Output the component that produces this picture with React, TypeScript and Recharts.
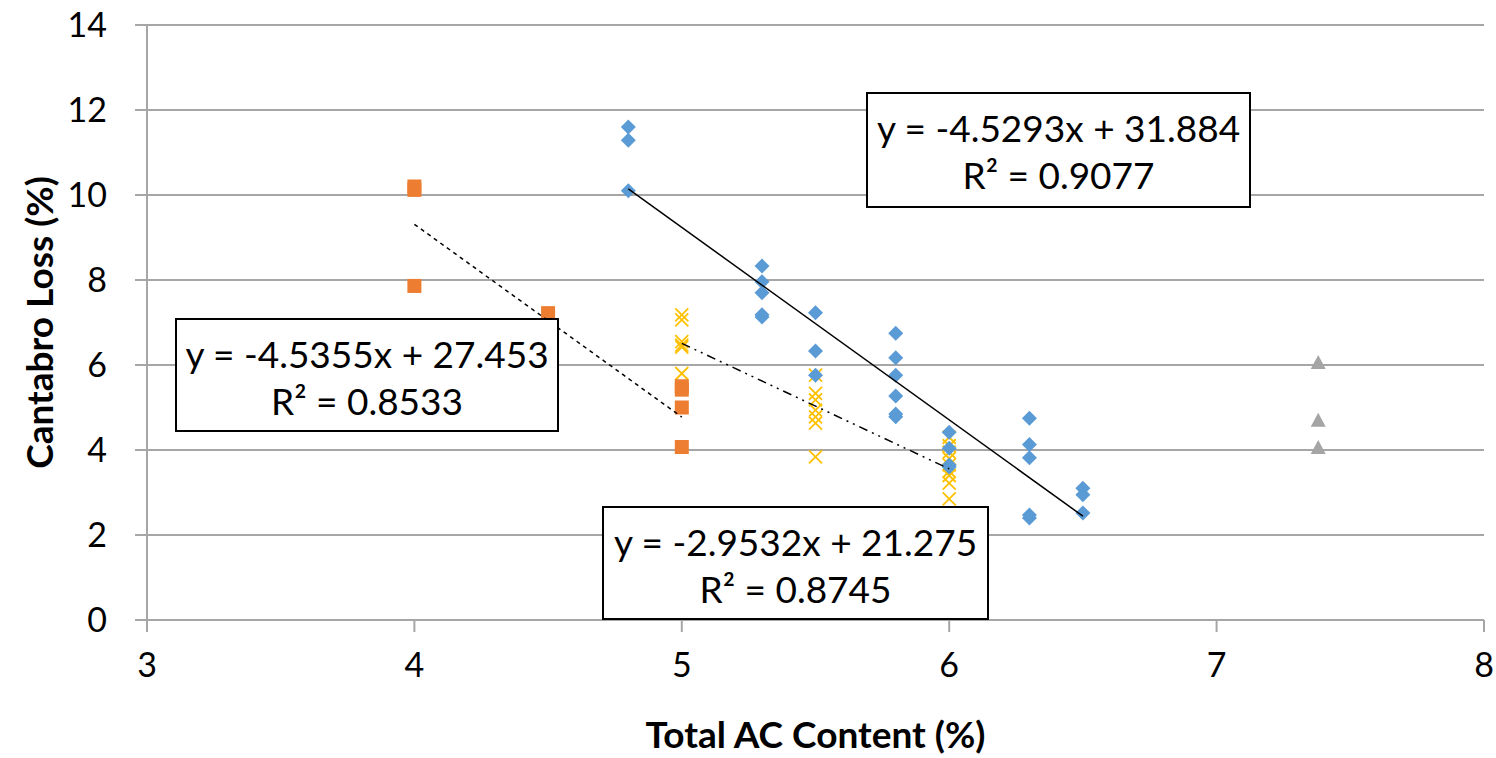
import React from "react";
import {
  ScatterChart,
  Scatter,
  XAxis,
  YAxis,
  CartesianGrid,
} from "recharts";

// [AC content, Cantabro loss]
const bluePoints: [number, number][] = [
  [4.8, 11.6], [4.8, 11.29], [4.8, 10.1],
  [5.3, 8.33], [5.3, 7.96], [5.3, 7.7], [5.3, 7.18], [5.3, 7.13],
  [5.5, 7.23], [5.5, 6.33], [5.5, 5.76],
  [5.8, 6.75], [5.8, 6.17], [5.8, 5.76], [5.8, 5.27], [5.8, 4.85], [5.8, 4.78],
  [6.0, 4.42], [6.0, 4.04], [6.0, 3.65], [6.0, 3.6],
  [6.3, 4.75], [6.3, 4.13], [6.3, 3.82], [6.3, 2.47], [6.3, 2.4],
  [6.5, 3.1], [6.5, 2.95], [6.5, 2.52],
];

const orangePoints: [number, number][] = [
  [4.0, 10.2], [4.0, 10.12], [4.0, 7.86],
  [4.5, 7.22],
  [5.0, 5.5], [5.0, 5.42], [5.0, 5.0], [5.0, 4.07],
];

const yellowPoints: [number, number][] = [
  [5.0, 7.18], [5.0, 7.06], [5.0, 6.55], [5.0, 6.47], [5.0, 6.42], [5.0, 5.8],
  [5.5, 5.76], [5.5, 5.33], [5.5, 5.18], [5.5, 4.94], [5.5, 4.78], [5.5, 4.63], [5.5, 3.84],
  [6.0, 4.3], [6.0, 4.1], [6.0, 3.95], [6.0, 3.8], [6.0, 3.65], [6.0, 3.5], [6.0, 3.4], [6.0, 3.22], [6.0, 2.85],
];

const grayPoints: [number, number][] = [
  [7.38, 6.05], [7.38, 4.69], [7.38, 4.05],
];

// trendlines: slope, intercept, x range
const blueTrend = { m: -4.5293, b: 31.884, from: 4.8, to: 6.5 };
const orangeTrend = { m: -4.5355, b: 27.453, from: 4.0, to: 5.0 };
const yellowTrend = { m: -2.9532, b: 21.275, from: 5.0, to: 6.0 };

const xTicks = [3, 4, 5, 6, 7, 8];
const yTicks = [0, 2, 4, 6, 8, 10, 12, 14];

const toData = (pts: [number, number][]) => pts.map(([x, y]) => ({ x, y }));
const trendData = (t: { m: number; b: number; from: number; to: number }) => [
  { x: t.from, y: t.m * t.from + t.b },
  { x: t.to, y: t.m * t.to + t.b },
];

const FONT = "Lato, 'Open Sans', sans-serif";

const Diamond = (props: any) => {
  const { cx, cy } = props;
  const r = 7.5;
  return (
    <path
      d={`M${cx},${cy - r}L${cx + r},${cy}L${cx},${cy + r}L${cx - r},${cy}Z`}
      fill="#5b9bd5"
    />
  );
};

const Square = (props: any) => {
  const { cx, cy } = props;
  return <rect x={cx - 7} y={cy - 7} width={14} height={14} fill="#ed7d31" />;
};

const Cross = (props: any) => {
  const { cx, cy } = props;
  const r = 6.5;
  return (
    <path
      d={`M${cx - r},${cy - r}L${cx + r},${cy + r}M${cx + r},${cy - r}L${cx - r},${cy + r}`}
      stroke="#ffc000"
      strokeWidth={1.8}
      fill="none"
    />
  );
};

const Triangle = (props: any) => {
  const { cx, cy } = props;
  return (
    <path
      d={`M${cx},${cy - 8}L${cx + 7.5},${cy + 6}L${cx - 7.5},${cy + 6}Z`}
      fill="#a5a5a5"
    />
  );
};

const NoShape = () => <g />;

const EqBox = ({
  left,
  top,
  width,
  height,
  eq,
  r2,
}: {
  left: number;
  top: number;
  width: number;
  height: number;
  eq: string;
  r2: string;
}) => (
  <div
    style={{
      position: "absolute",
      left,
      top,
      width,
      height,
      boxSizing: "border-box",
      border: "2px solid #000",
      background: "#fff",
      fontFamily: FONT,
      fontSize: 37,
      color: "#000",
      textAlign: "center",
      lineHeight: "47px",
      paddingTop: 10,
      whiteSpace: "nowrap",
    }}
  >
    <div>{eq}</div>
    <div>{r2}</div>
  </div>
);

export default function App() {
  return (
    <div
      style={{
        position: "absolute",
        left: 0,
        top: 0,
        width: 1496,
        height: 758,
        background: "#fff",
        fontFamily: FONT,
      }}
    >
      <ScatterChart
        width={1496}
        height={758}
        margin={{ top: 25, right: 12, bottom: 0, left: 0 }}
      >
        <CartesianGrid
          vertical={false}
          stroke="#a6a6a6"
          strokeWidth={2}
        />
        <XAxis
          type="number"
          dataKey="x"
          domain={[3, 8]}
          ticks={xTicks}
          height={138}
          tickSize={12}
          tickMargin={21}
          axisLine={{ stroke: "#a6a6a6", strokeWidth: 2 }}
          tickLine={{ stroke: "#a6a6a6", strokeWidth: 2 }}
          tick={{ fill: "#000", fontSize: 34, fontFamily: FONT }}
          label={{
            value: "Total AC Content (%)",
            position: "insideBottom",
            offset: 10,
            fill: "#000",
            fontSize: 37,
            fontWeight: 700,
            fontFamily: FONT,
          }}
        />
        <YAxis
          type="number"
          dataKey="y"
          domain={[0, 14]}
          ticks={yTicks}
          width={147}
          tickSize={12}
          tickMargin={28}
          axisLine={{ stroke: "#a6a6a6", strokeWidth: 2 }}
          tickLine={{ stroke: "#a6a6a6", strokeWidth: 2 }}
          tick={{ fill: "#000", fontSize: 34, fontFamily: FONT }}
          label={{
            value: "Cantabro Loss (%)",
            angle: -90,
            position: "insideLeft",
            offset: 40,
            fill: "#000",
            fontSize: 37,
            fontWeight: 700,
            fontFamily: FONT,
            style: { textAnchor: "middle" },
          }}
        />
        <Scatter data={toData(grayPoints)} shape={Triangle} isAnimationActive={false} />
        <Scatter data={toData(yellowPoints)} shape={Cross} isAnimationActive={false} />
        <Scatter data={toData(orangePoints)} shape={Square} isAnimationActive={false} />
        <Scatter data={toData(bluePoints)} shape={Diamond} isAnimationActive={false} />
        <Scatter
          data={trendData(blueTrend)}
          shape={NoShape}
          line={{ stroke: "#000", strokeWidth: 1.5 }}
          isAnimationActive={false}
        />
        <Scatter
          data={trendData(orangeTrend)}
          shape={NoShape}
          line={{ stroke: "#000", strokeWidth: 1.5, strokeDasharray: "4 4" }}
          isAnimationActive={false}
        />
        <Scatter
          data={trendData(yellowTrend)}
          shape={NoShape}
          line={{ stroke: "#000", strokeWidth: 1.5, strokeDasharray: "9 5 2 5 2 5" }}
          isAnimationActive={false}
        />
      </ScatterChart>
      <EqBox left={866} top={92} width={385} height={116} eq="y = -4.5293x + 31.884" r2="R² = 0.9077" />
      <EqBox left={175} top={318} width={384} height={114} eq="y = -4.5355x + 27.453" r2="R² = 0.8533" />
      <EqBox left={602} top={506} width={387} height={114} eq="y = -2.9532x + 21.275" r2="R² = 0.8745" />
    </div>
  );
}
